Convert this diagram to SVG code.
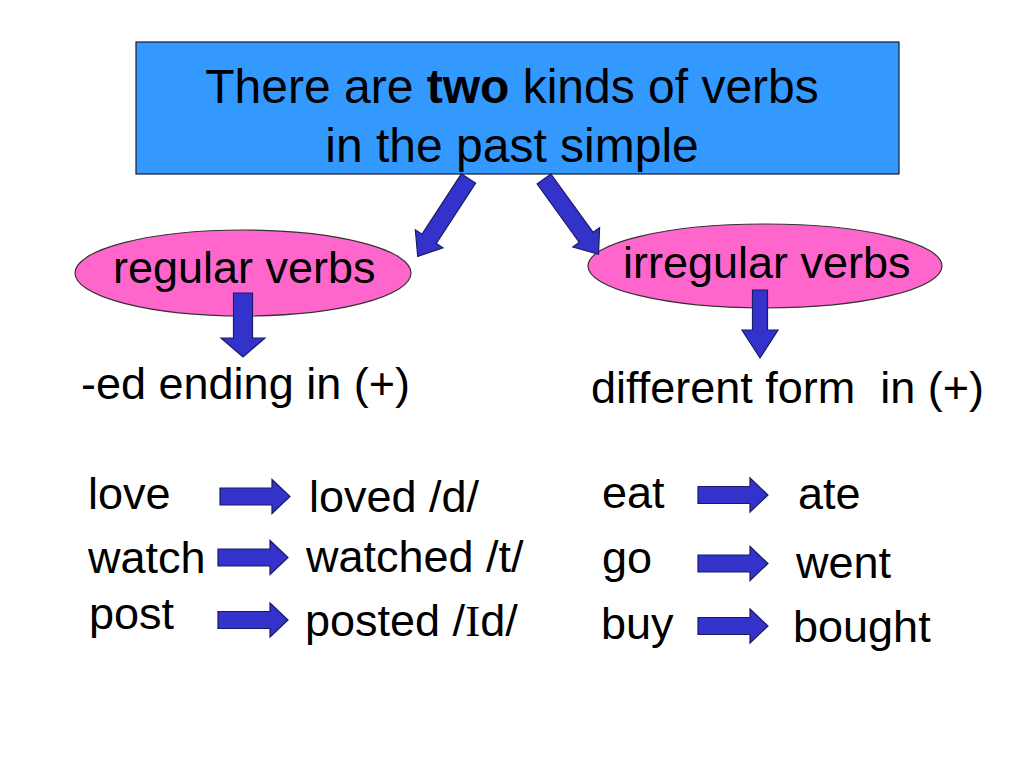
<svg xmlns="http://www.w3.org/2000/svg" xmlns:xlink="http://www.w3.org/1999/xlink" width="1024" height="768" viewBox="0 0 1024 768">
<style>
text{font-family:"Liberation Sans",Arial,sans-serif;fill:#000;}
.t48{font-size:48px;}
.t45{font-size:45px;}
.arr{fill:#3333CC;stroke:#1a1a66;stroke-width:1.2;stroke-linejoin:miter;}
.ell{fill:#FF66CC;stroke:#333;stroke-width:1.2;}
</style>
<defs>
<path id="big" d="M0,-8.5 L72,-8.5 L72,-16.5 L93,0 L72,16.5 L72,8.5 L0,8.5 Z"/>
<path id="small" d="M0,-8.5 H52 V-17 L70,0 L52,17 V8.5 H0 Z"/>
</defs>
<rect width="1024" height="768" fill="#fff"/>
<g id="title">
<rect x="136" y="42" width="763" height="132" fill="#3399FF" stroke="#1a1a33" stroke-width="1.2"/>
<text class="t48" x="512" y="103" text-anchor="middle">There are <tspan font-weight="bold">two</tspan> kinds of verbs</text>
<text class="t48" x="512" y="162" text-anchor="middle">in the past simple</text>
</g>
<g id="regular">
<ellipse class="ell" cx="243" cy="273" rx="168" ry="43"/>
<text class="t45" x="113" y="283">regular verbs</text>
</g>
<g id="irregular">
<ellipse class="ell" cx="765" cy="266" rx="177" ry="42"/>
<text class="t45" x="623" y="278">irregular verbs</text>
</g>
<g id="regular-rule"><text class="t45" x="81" y="399">-ed ending in (+)</text></g>
<g id="irregular-rule"><text class="t45" x="591" y="403" xml:space="preserve">different form  in (+)</text></g>
<g id="regular-examples">
<text class="t45" x="88" y="509">love</text>
<text class="t45" x="309" y="512">loved /d/</text>
<text class="t45" x="88" y="573">watch</text>
<text class="t45" x="306" y="572">watched /t/</text>
<text class="t45" x="89" y="629">post</text>
<text class="t45" x="305" y="636">posted /<tspan font-family="Liberation Serif, serif">I</tspan>d/</text>
</g>
<g id="irregular-examples">
<text class="t45" x="602" y="508">eat</text>
<text class="t45" x="798" y="509">ate</text>
<text class="t45" x="602" y="573">go</text>
<text class="t45" x="796" y="578">went</text>
<text class="t45" x="601" y="639">buy</text>
<text class="t45" x="793" y="642">bought</text>
</g>
<g id="connectors">
<use href="#big" class="arr" transform="translate(468.5,178.5) rotate(123.1)"/>
<use href="#big" class="arr" transform="translate(544,179) rotate(54.1)"/>
<path class="arr" d="M233.5,293 H252.5 V338 H265 L243,357 L221,338 H233.5 Z"/>
<path class="arr" d="M752.5,290 H767.5 V330 H778 L760,358 L742,330 H752.5 Z"/>
<use href="#small" class="arr" transform="translate(220,496.5)"/>
<use href="#small" class="arr" transform="translate(218,557.5)"/>
<use href="#small" class="arr" transform="translate(218,620)"/>
<use href="#small" class="arr" transform="translate(698,495)"/>
<use href="#small" class="arr" transform="translate(698,563.5)"/>
<use href="#small" class="arr" transform="translate(698,626)"/>
</g>
</svg>
